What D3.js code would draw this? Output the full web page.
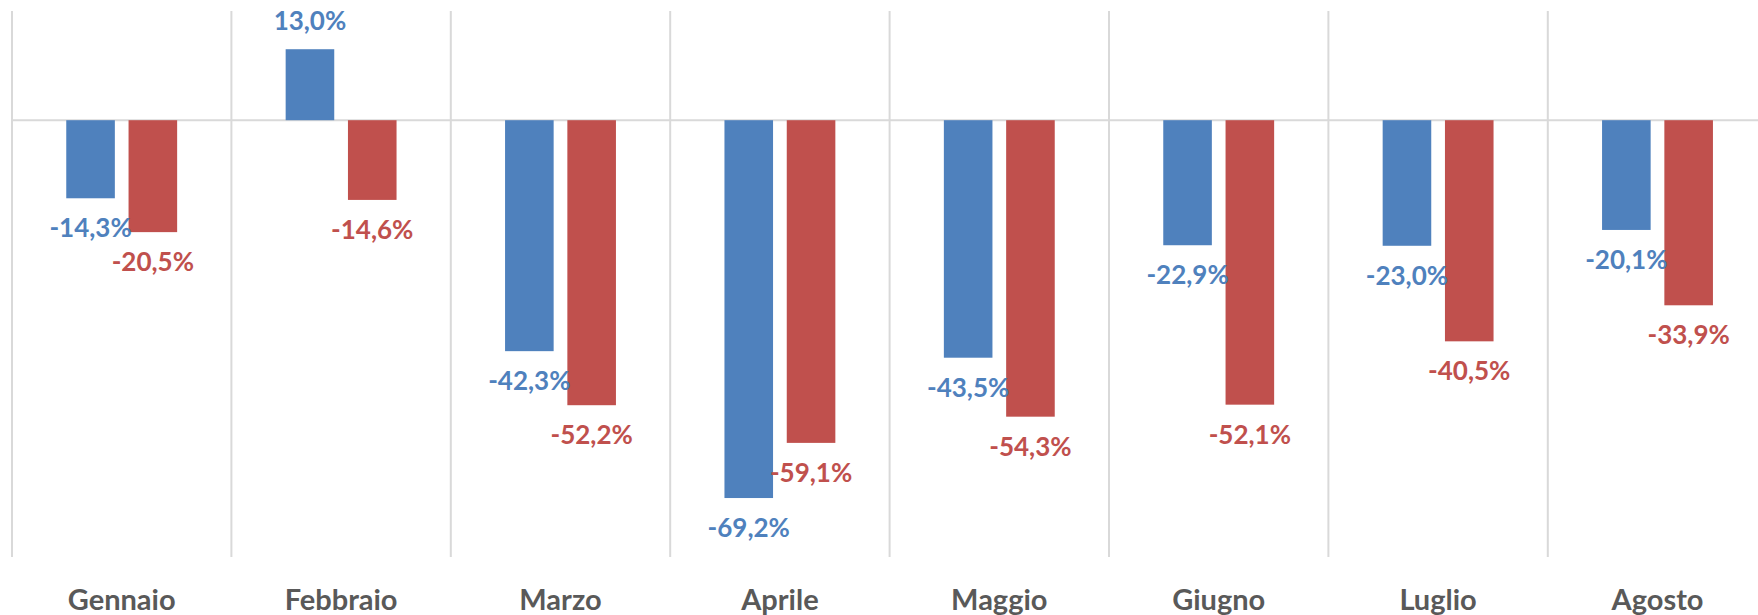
<!DOCTYPE html>
<html>
<head>
<meta charset="utf-8">
<script src="https://cdn.jsdelivr.net/npm/d3@7"></script>
<style>
  body { margin: 0; background: #fff; }
  text { font-family: Lato, "Open Sans", sans-serif; font-weight: bold; }
</style>
</head>
<body>
<svg id="chart" width="1758" height="615"></svg>
<script>
// data
const months = ["Gennaio", "Febbraio", "Marzo", "Aprile", "Maggio", "Giugno", "Luglio", "Agosto"];
const seriesNames = ["s1", "s2"];
const blueValues = [-14.3, 13.0, -42.3, -69.2, -43.5, -22.9, -23.0, -20.1];
const redValues = [-20.5, -14.6, -52.2, -59.1, -54.3, -52.1, -40.5, -33.9];
const colors = {s1: "#4F81BD", s2: "#C0504D"};

const rows = months.map((m, i) => ({month: m, s1: blueValues[i], s2: redValues[i]}));

const svg = d3.select("#chart");
const plotTop = 11, plotBottom = 557, plotLeft = 12;
const step = 219.4;

// scales
const x0 = d3.scaleBand().domain(months).range([plotLeft, plotLeft + step * months.length]);
const x1 = d3.scaleBand().domain(seriesNames).range([0, x0.bandwidth()])
             .paddingInner(0.22).paddingOuter(0.871);
const y = d3.scaleLinear().domain([-80, 20]).range([plotBottom, plotTop]);

// italian number format, plain hyphen for minus
const it = d3.formatLocale({decimal: ",", thousands: ".", grouping: [3], currency: ["€", ""], minus: "-"});
const fmt = v => it.format(".1f")(v) + "%";

// vertical gridlines between categories
const grid = svg.append("g").attr("class", "gridlines");
grid.selectAll("line")
    .data(months)
    .join("line")
    .attr("x1", d => x0(d)).attr("x2", d => x0(d))
    .attr("y1", plotTop).attr("y2", plotBottom)
    .attr("stroke", "#d9d9d9").attr("stroke-width", 2);

// zero line
grid.append("line")
    .attr("x1", plotLeft).attr("x2", 1758)
    .attr("y1", y(0)).attr("y2", y(0))
    .attr("stroke", "#d9d9d9").attr("stroke-width", 2);

// bars
const groups = svg.selectAll("g.month")
    .data(rows)
    .join("g")
    .attr("class", "month")
    .attr("transform", d => `translate(${x0(d.month)},0)`);

groups.selectAll("rect")
    .data(d => seriesNames.map(k => ({key: k, value: d[k]})))
    .join("rect")
    .attr("x", d => x1(d.key))
    .attr("width", x1.bandwidth())
    .attr("y", d => y(Math.max(0, d.value)))
    .attr("height", d => Math.abs(y(d.value) - y(0)))
    .attr("fill", d => colors[d.key]);

// data labels (drawn after all bars)
const labels = svg.append("g").attr("class", "labels");
rows.forEach(r => {
  seriesNames.forEach(k => {
    const v = r[k];
    labels.append("text")
        .attr("x", x0(r.month) + x1(k) + x1.bandwidth() / 2)
        .attr("y", v < 0 ? y(v) + 39 : y(v) - 19)
        .attr("text-anchor", "middle")
        .attr("font-size", 26)
        .attr("fill", colors[k])
        .text(fmt(v));
  });
});

// category labels
svg.append("g")
    .selectAll("text")
    .data(months)
    .join("text")
    .attr("x", d => x0(d) + x0.bandwidth() / 2)
    .attr("y", 610)
    .attr("text-anchor", "middle")
    .attr("font-size", 29)
    .attr("fill", "#595959")
    .text(d => d);
</script>
</body>
</html>
